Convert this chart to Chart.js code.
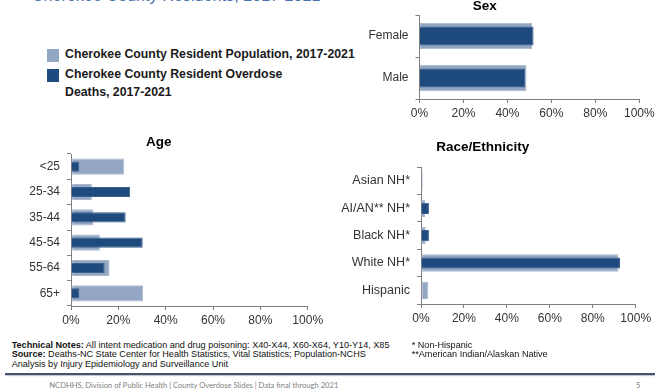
<!DOCTYPE html>
<html>
<head>
<meta charset="utf-8">
<script src="https://cdn.jsdelivr.net/npm/chart.js@4/dist/chart.umd.min.js"></script>
<style>
  html, body { margin: 0; padding: 0; background: #fff; }
  body { width: 655px; height: 389px; position: relative; overflow: hidden; font-family: 'Liberation Sans', Arial, sans-serif; }
  canvas { position: absolute; }
  .abs { position: absolute; white-space: nowrap; }
  .top-title { left: 31.7px; top: -13px; font-size: 16.2px; line-height: 16px; color: #4A72B0; }
  .sw { position: absolute; width: 12.5px; height: 12.5px; }
  .lg { font-size: 12.3px; font-weight: bold; line-height: 17.7px; color: #1a1a1a; }
  .note { font-size: 9.1px; line-height: 9.7px; color: #111; }
  .rule { position: absolute; left: 5px; right: 0; top: 372.7px; height: 2px; background: #44546A; box-shadow: 0 1px 1px rgba(68,84,106,0.35); }
  .foot { font-family: 'Lato', 'Open Sans', sans-serif; font-size: 7.6px; color: #7f7f7f; line-height: 10px; }
</style>
</head>
<body>
<div class="abs top-title">Cherokee County Residents, 2017-2021</div>

<div class="sw" style="left:46.7px; top:49px; background:#93A6C3;"></div>
<div class="abs lg" style="left:65px; top:46.2px;">Cherokee County Resident Population, 2017-2021</div>
<div class="sw" style="left:46.7px; top:69.3px; background:#1F4A7D;"></div>
<div class="abs lg" style="left:65px; top:66.2px;">Cherokee County Resident Overdose<br>Deaths, 2017-2021</div>

<canvas id="sex" width="347" height="127" style="left:330px; top:0px;"></canvas>
<canvas id="age" width="336" height="198" style="left:10px; top:136px;"></canvas>
<canvas id="race" width="347" height="191" style="left:330px; top:141px;"></canvas>

<div class="abs note" style="left:11.7px; top:340.5px;"><b>Technical Notes:</b> All intent medication and drug poisoning: X40-X44, X60-X64, Y10-Y14, X85<br><b>Source:</b> Deaths-NC State Center for Health Statistics, Vital Statistics; Population-NCHS<br>Analysis by Injury Epidemiology and Surveillance Unit</div>
<div class="abs note" style="left:411.7px; top:340.5px;">* Non-Hispanic<br>**American Indian/Alaskan Native</div>
<div class="rule"></div>
<div class="abs foot" style="left:49.3px; top:380.3px;">NCDHHS, Division of Public Health | County Overdose Slides | Data final through 2021</div>
<div class="abs foot" style="left:636px; top:380.3px;">5</div>

<script>
// ---- data ----
const seriesNames = ['Cherokee County Resident Population, 2017-2021', 'Cherokee County Resident Overdose Deaths, 2017-2021'];
const xTickLabels = ['0%', '20%', '40%', '60%', '80%', '100%'];

const sexCategories = ['Female', 'Male'];
const sexPopulation = [51.3, 48.7];
const sexDeaths = [51.9, 48.1];

const ageCategories = ['<25', '25-34', '35-44', '45-54', '55-64', '65+'];
const agePopulation = [22.5, 8.8, 9.5, 12.2, 16.3, 30.4];
const ageDeaths = [3.5, 25.0, 23.1, 30.3, 14.2, 3.5];

const raceCategories = ['Asian NH*', 'AI/AN** NH*', 'Black NH*', 'White NH*', 'Hispanic'];
const racePopulation = [0.8, 1.9, 2.2, 92.0, 3.4];
const raceDeaths = [0, 3.7, 3.7, 92.7, 0];

// ---- styling ----
const FONT = "'Liberation Sans', Arial, sans-serif";
const COLOR_POP = '#93A6C3';
const COLOR_DEATH = '#1F4A7D';
const AXIS = '#7f7f7f';
const TICK_TEXT = '#333333';

function build(id, title, labels, pop, deaths, o) {
  return new Chart(document.getElementById(id), {
    type: 'bar',
    data: {
      labels: labels,
      datasets: [
        { label: seriesNames[0], data: pop, backgroundColor: COLOR_POP, borderColor: '#A9B8CE', borderWidth: 1, borderSkipped: false, barPercentage: 0.635, categoryPercentage: 1, grouped: false, order: 2 },
        { label: seriesNames[1], data: deaths, backgroundColor: COLOR_DEATH, borderColor: '#3B5F8C', borderWidth: 1, borderSkipped: 'start', barPercentage: o.darkPct, categoryPercentage: 1, grouped: false, order: 1 }
      ]
    },
    options: {
      indexAxis: 'y',
      responsive: false,
      animation: false,
      devicePixelRatio: 1,
      layout: { padding: { left: 0, right: o.pr, top: 0, bottom: 0 } },
      plugins: {
        legend: { display: false },
        tooltip: { enabled: false },
        title: {
          display: true, text: title, color: '#000',
          font: { family: FONT, size: 13.5, weight: 'bold', lineHeight: 1 },
          padding: { top: 0, bottom: o.pb }
        }
      },
      scales: {
        x: {
          min: 0, max: 100,
          ticks: { stepSize: 20, autoSkip: false, maxRotation: 0, color: TICK_TEXT, font: { family: FONT, size: 12 }, padding: 3,
                   callback: (v, i) => xTickLabels[i] },
          grid: { drawOnChartArea: false, drawTicks: true, tickLength: 4, color: AXIS },
          border: { color: AXIS, width: 1 },
          afterFit: s => { s.height = 28; }
        },
        y: {
          ticks: { autoSkip: false, color: TICK_TEXT, font: { family: FONT, size: o.ySize }, padding: 7 },
          grid: { drawOnChartArea: false, drawTicks: true, tickLength: 4, color: AXIS, offset: true },
          border: { color: AXIS, width: 1 },
          afterFit: s => { s.width = o.yw; }
        }
      }
    }
  });
}

build('sex', 'Sex', sexCategories, sexPopulation, sexDeaths, { pr: 37.7, pb: 1.5, yw: 89.5, darkPct: 0.45, ySize: 12 });
build('age', 'Age', ageCategories, agePopulation, ageDeaths, { pr: 38.3, pb: 4.5, yw: 61, darkPct: 0.40, ySize: 12 });
build('race', 'Race/Ethnicity', raceCategories, racePopulation, raceDeaths, { pr: 41.3, pb: 12.8, yw: 91, darkPct: 0.41, ySize: 12.5 });
</script>
</body>
</html>
